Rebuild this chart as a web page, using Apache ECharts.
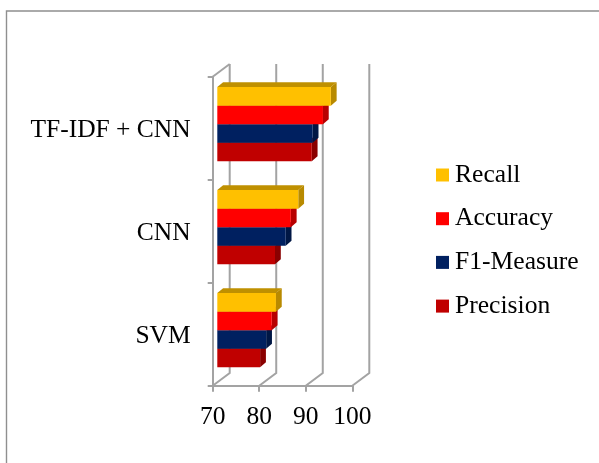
<!DOCTYPE html>
<html><head><meta charset="utf-8">
<style>html,body{margin:0;padding:0;background:#fff}#c{width:599px;height:463px}</style>
<script src="https://cdn.jsdelivr.net/npm/echarts@6/dist/echarts.min.js"></script>
</head><body><div id="c"></div>
<script>
const categories = ['SVM', 'CNN', 'TF-IDF + CNN'];
const precision = [79.2, 82.4, 90.3];
const f1Measure = [80.5, 84.7, 90.5];
const accuracy = [81.7, 85.8, 92.7];
const recall = [82.6, 87.4, 94.4];
const xTicks = [70, 80, 90, 100];

const BAR_DX = 4.6, BAR_DY = -4, DEPTH = 5.8, BAND_FILL = 0.72;
const WALL_DX = 17, WALL_DY = -12.7;
const FONT = '"Liberation Serif", "Times New Roman", serif';
const GRID_COLOR = '#a3a3a3';

function shade(hex, k) {
  const n = parseInt(hex.slice(1), 16);
  const c = s => Math.round(((n >> s) & 255) * k);
  return 'rgb(' + c(16) + ',' + c(8) + ',' + c(0) + ')';
}
function barSeries(name, values, color, idx) {
  return {
    name, type: 'custom', coordinateSystem: 'cartesian2d', z: 5 + idx,
    itemStyle: { color },
    encode: { x: 1, y: 0 },
    data: values.map((v, i) => [i, v]),
    renderItem(params, api) {
      const cat = api.value(0), val = api.value(1);
      const band = api.size([0, 1])[1];
      const h = band * BAND_FILL / 4;
      const c0 = api.coord([70, cat]), c1 = api.coord([val, cat]);
      const x0 = c0[0] + BAR_DX, x1 = c1[0] + BAR_DX;
      const top = c0[1] + BAR_DY - 2 * h + idxFromTop(idx) * h;
      const bot = top + h;
      const dy = DEPTH * .85;
      const poly = (pts, fill) => ({ type: 'polygon', shape: { points: pts }, style: { fill } });
      return { type: 'group', children: [
        poly([[x0, top], [x1, top], [x1 + DEPTH, top - dy], [x0 + DEPTH, top - dy]], shade(color, .75)),
        poly([[x1, top], [x1 + DEPTH, top - dy], [x1 + DEPTH, bot - dy], [x1, bot]], shade(color, .72)),
        poly([[x0, top], [x1, top], [x1, bot], [x0, bot]], color)
      ]};
    }
  };
}
function idxFromTop(idx) { return 3 - idx; }

const wallSeries = {
  type: 'custom', silent: true, z: 2, legendHoverLink: false,
  encode: { x: 0 },
  data: xTicks.map(v => [v]),
  renderItem(params, api) {
    const v = api.value(0);
    const cs = params.coordSys;
    const bottom = cs.y + cs.height, topY = cs.y;
    const x = api.coord([v, 0])[0];
    const st = { stroke: GRID_COLOR, lineWidth: 2, fill: null };
    const kids = [{ type: 'polyline', shape: { points: [[x, bottom], [x + WALL_DX, bottom + WALL_DY], [x + WALL_DX, topY + WALL_DY]] }, style: st }];
    if (v === 70) kids.push({ type: 'polyline', shape: { points: [[x, topY], [x + WALL_DX, topY + WALL_DY]] }, style: st });
    return { type: 'group', children: kids };
  }
};

const option = {
  animation: false,
  backgroundColor: '#fff',
  graphic: [{ type: 'polyline', shape: { points: [[6.5, 463], [6.5, 11], [599, 11]] }, style: { fill: null, stroke: '#8f8f8f', lineWidth: 1.4 }, silent: true, z: -1 }],
  grid: { left: 212.7, top: 76.7, width: 139.6, height: 309, containLabel: false },
  legend: {
    orient: 'vertical', left: 436, top: 162, padding: 0, itemWidth: 13, itemHeight: 13, itemGap: 17.7,
    icon: 'rect', selectedMode: false,
    data: ['Recall', 'Accuracy', 'F1-Measure', 'Precision'],
    textStyle: { fontFamily: FONT, fontSize: 25.6, color: '#000', padding: [0, 0, 0, 1] }
  },
  xAxis: {
    type: 'value', min: 70, max: 100, interval: 10,
    axisLine: { show: true, lineStyle: { color: GRID_COLOR, width: 2 } },
    axisTick: { show: true, length: 6, lineStyle: { color: GRID_COLOR, width: 2 } },
    axisLabel: { fontFamily: FONT, fontSize: 25.5, color: '#000', margin: 19 },
    splitLine: { show: false }
  },
  yAxis: {
    type: 'category', data: categories,
    axisLine: { show: true, lineStyle: { color: GRID_COLOR, width: 2 } },
    axisTick: { show: true, length: 5, alignWithLabel: false, lineStyle: { color: GRID_COLOR, width: 2 } },
    axisLabel: { fontFamily: FONT, fontSize: 25.5, color: '#000', margin: 22, verticalAlign: 'top', lineHeight: 5 },
    splitLine: { show: false }
  },
  series: [
    wallSeries,
    barSeries('Precision', precision, '#c00000', 0),
    barSeries('F1-Measure', f1Measure, '#002060', 1),
    barSeries('Accuracy', accuracy, '#ff0000', 2),
    barSeries('Recall', recall, '#ffc000', 3)
  ]
};
echarts.init(document.getElementById('c'), null, { renderer: 'canvas' }).setOption(option);
</script></body></html>
